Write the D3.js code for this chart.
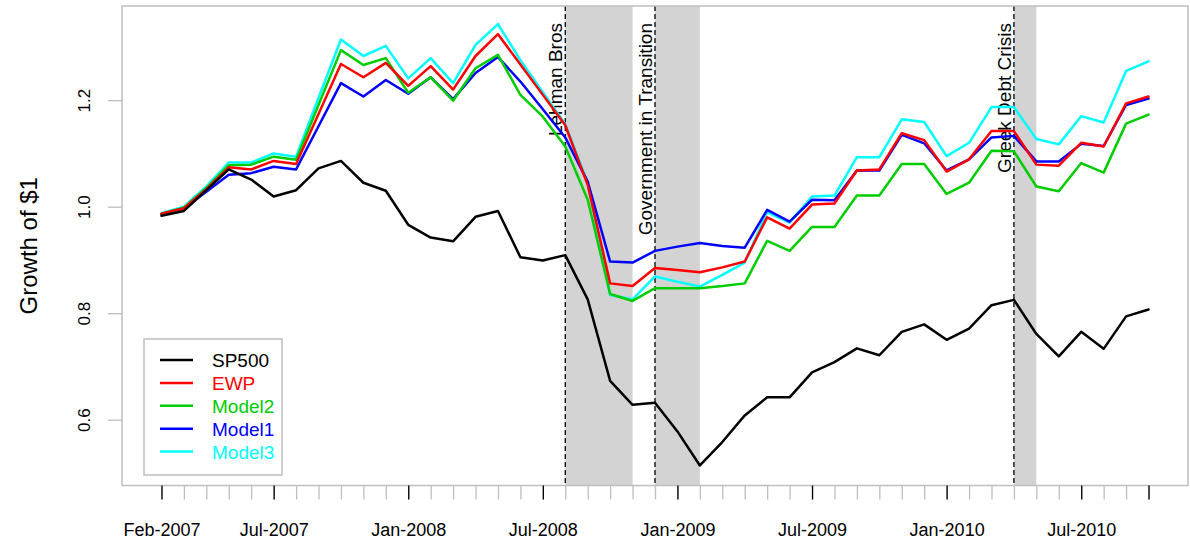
<!DOCTYPE html>
<html>
<head>
<meta charset="utf-8">
<script src="https://cdn.jsdelivr.net/npm/d3@7"></script>
<style>
  body { margin: 0; background: #ffffff; }
  svg { display: block; font-family: "Liberation Sans", Arial, sans-serif; }
</style>
</head>
<body>
<svg id="chart" width="1190" height="544"></svg>
<script>
// Monthly observations, Feb-2007 through Oct-2010
const months = d3.timeMonth.range(new Date(2007, 1, 1), new Date(2010, 10, 1));

// Growth of $1 for each strategy
const sp500  = [0.983,0.992,1.031,1.070,1.051,1.019,1.031,1.072,1.086,1.045,1.030,0.966,0.942,0.935,0.981,
                0.992,0.905,0.899,0.909,0.826,0.673,0.628,0.632,0.578,0.514,0.558,0.608,0.642,0.642,0.689,
                0.708,0.734,0.721,0.765,0.779,0.750,0.771,0.815,0.825,0.761,0.719,0.765,0.733,0.794,0.807];
const ewp    = [0.987,0.997,1.033,1.074,1.070,1.086,1.080,1.174,1.268,1.243,1.270,1.227,1.264,1.220,1.283,
                1.324,1.267,1.210,1.153,1.041,0.856,0.851,0.885,0.881,0.877,0.886,0.897,0.980,0.959,1.004,
                1.006,1.068,1.070,1.138,1.125,1.066,1.089,1.142,1.142,1.079,1.077,1.120,1.113,1.194,1.207];
const model2 = [0.987,0.998,1.035,1.078,1.079,1.094,1.088,1.191,1.294,1.266,1.279,1.214,1.243,1.199,1.260,
                1.285,1.210,1.169,1.113,1.013,0.836,0.823,0.847,0.847,0.847,0.851,0.856,0.936,0.917,0.962,
                0.962,1.021,1.021,1.080,1.080,1.024,1.045,1.105,1.104,1.038,1.029,1.082,1.064,1.156,1.173];
const model1 = [0.986,0.997,1.028,1.060,1.063,1.075,1.070,1.151,1.232,1.207,1.238,1.212,1.243,1.202,1.251,
                1.281,1.235,1.183,1.130,1.047,0.897,0.895,0.917,0.925,0.932,0.926,0.923,0.994,0.972,1.013,
                1.012,1.068,1.068,1.135,1.119,1.068,1.089,1.130,1.133,1.085,1.085,1.118,1.114,1.191,1.203];
const model3 = [0.988,1.000,1.038,1.083,1.083,1.100,1.094,1.204,1.314,1.283,1.302,1.241,1.279,1.232,1.304,
                1.343,1.275,1.215,1.155,1.045,0.834,0.826,0.869,0.859,0.850,0.872,0.895,0.990,0.970,1.019,
                1.021,1.093,1.093,1.164,1.159,1.095,1.120,1.187,1.187,1.127,1.117,1.170,1.158,1.255,1.273];

const seriesNames  = ["SP500", "EWP", "Model2", "Model1", "Model3"];
const seriesValues = [sp500, ewp, model2, model1, model3];
const seriesColors = ["#000000", "#ff0000", "#00cd00", "#0000ff", "#00ffff"];

// Market events: month index where each starts and where its shaded band ends
const eventNames = ["Lehman Bros", "Government in Transition", "Greek Debt Crisis"];
const eventStart = [18, 22, 38];
const eventEnd   = [21, 24, 39];

// Axis ticks
const majorTicks = [0, 5, 11, 17, 23, 29, 35, 41, 44];
const labelTicks = [0, 5, 11, 17, 23, 29, 35, 41];
const yTicks = [0.6, 0.8, 1.0, 1.2];

const svg = d3.select("#chart");
const box = { left: 122, right: 1188, top: 6, bottom: 485.5 };

const n = months.length;
const pad = (n - 1) * 0.04;
const x = d3.scaleLinear().domain([-pad, n - 1 + pad]).range([box.left, box.right]);
const y = d3.scaleLinear().domain([0.4764, 1.3769]).range([box.bottom, box.top]);

const fmtMonth = d3.timeFormat("%b-%Y");

// Shaded event windows
svg.append("g").selectAll("rect")
  .data(eventStart)
  .join("rect")
  .attr("x", (d) => x(d))
  .attr("y", box.top)
  .attr("width", (d, i) => x(eventEnd[i]) - x(d))
  .attr("height", box.bottom - box.top)
  .attr("fill", "#d3d3d3");

// Dashed event markers
svg.append("g").selectAll("line")
  .data(eventStart)
  .join("line")
  .attr("x1", (d) => x(d)).attr("x2", (d) => x(d))
  .attr("y1", box.top).attr("y2", box.bottom)
  .attr("stroke", "#000")
  .attr("stroke-width", 1.3)
  .attr("stroke-dasharray", "5,3");

// Event labels, written upward along the marker
svg.append("g").selectAll("text")
  .data(eventStart)
  .join("text")
  .attr("transform", (d) => `translate(${x(d) - 3},23) rotate(-90)`)
  .attr("text-anchor", "end")
  .attr("font-size", 19)
  .attr("fill", "#000")
  .text((d, i) => eventNames[i]);

// Series lines (benchmark drawn last so it sits on top)
const line = d3.line()
  .x((d, i) => x(i))
  .y((d) => y(d));

const order = [4, 3, 2, 1, 0];
svg.append("g").selectAll("path")
  .data(order)
  .join("path")
  .attr("d", (k) => line(seriesValues[k]))
  .attr("fill", "none")
  .attr("stroke", (k) => seriesColors[k])
  .attr("stroke-width", 2.5)
  .attr("stroke-linejoin", "round")
  .attr("stroke-linecap", "round");

// Plot frame
svg.append("rect")
  .attr("x", box.left).attr("y", box.top)
  .attr("width", box.right - box.left)
  .attr("height", box.bottom - box.top)
  .attr("fill", "none")
  .attr("stroke", "#bebebe")
  .attr("stroke-width", 1.5);

// X axis: minor ticks every month, major ticks with labels
const xMinor = svg.append("g")
  .attr("transform", `translate(0,${box.bottom})`)
  .call(d3.axisBottom(x).tickValues(d3.range(n)).tickSize(14).tickFormat(""));
xMinor.select(".domain").remove();
xMinor.selectAll(".tick line").attr("stroke", "#bebebe").attr("stroke-width", 1.3);

const xMajor = svg.append("g")
  .attr("transform", `translate(0,${box.bottom})`)
  .call(d3.axisBottom(x).tickValues(majorTicks).tickSize(14)
    .tickFormat((d) => labelTicks.includes(d) ? fmtMonth(months[d]) : ""));
xMajor.select(".domain").remove();
xMajor.selectAll(".tick line").attr("stroke", "#000").attr("stroke-width", 1.3);
xMajor.selectAll(".tick text")
  .attr("font-family", "Liberation Sans, Arial, sans-serif")
  .attr("font-size", 18)
  .attr("fill", "#000")
  .attr("dy", null)
  .attr("y", 50);

// Y axis with labels parallel to the axis
const yAxis = svg.append("g")
  .attr("transform", `translate(${box.left},0)`)
  .call(d3.axisLeft(y).tickValues(yTicks).tickSize(14).tickFormat(d3.format(".1f")));
yAxis.select(".domain").remove();
yAxis.selectAll(".tick line").attr("stroke", "#bebebe").attr("stroke-width", 1.3);
yAxis.selectAll(".tick text")
  .attr("font-family", "Liberation Sans, Arial, sans-serif")
  .attr("font-size", 17)
  .attr("fill", "#000")
  .attr("x", null).attr("dy", null)
  .attr("text-anchor", "middle")
  .attr("transform", "translate(-32,0) rotate(-90)");

// Y axis title
svg.append("text")
  .attr("transform", `translate(37,${(box.top + box.bottom) / 2}) rotate(-90)`)
  .attr("text-anchor", "middle")
  .attr("font-size", 24)
  .attr("fill", "#000")
  .text("Growth of $1");

// Legend
const legend = svg.append("g");
legend.append("rect")
  .attr("x", 144).attr("y", 339)
  .attr("width", 138).attr("height", 136)
  .attr("fill", "#fff")
  .attr("stroke", "#bebebe")
  .attr("stroke-width", 1.5);

const legendRow = d3.scaleLinear().domain([0, seriesNames.length - 1]).range([360, 451.5]);
const items = legend.selectAll("g.item")
  .data(seriesNames)
  .join("g")
  .attr("class", "item")
  .attr("transform", (d, i) => `translate(0,${legendRow(i)})`);
items.append("line")
  .attr("x1", 160).attr("x2", 193)
  .attr("stroke", (d, i) => seriesColors[i])
  .attr("stroke-width", 2.5);
items.append("text")
  .attr("x", 212).attr("y", 7)
  .attr("font-size", 19)
  .attr("fill", (d, i) => seriesColors[i])
  .text((d) => d);
</script>
</body>
</html>
